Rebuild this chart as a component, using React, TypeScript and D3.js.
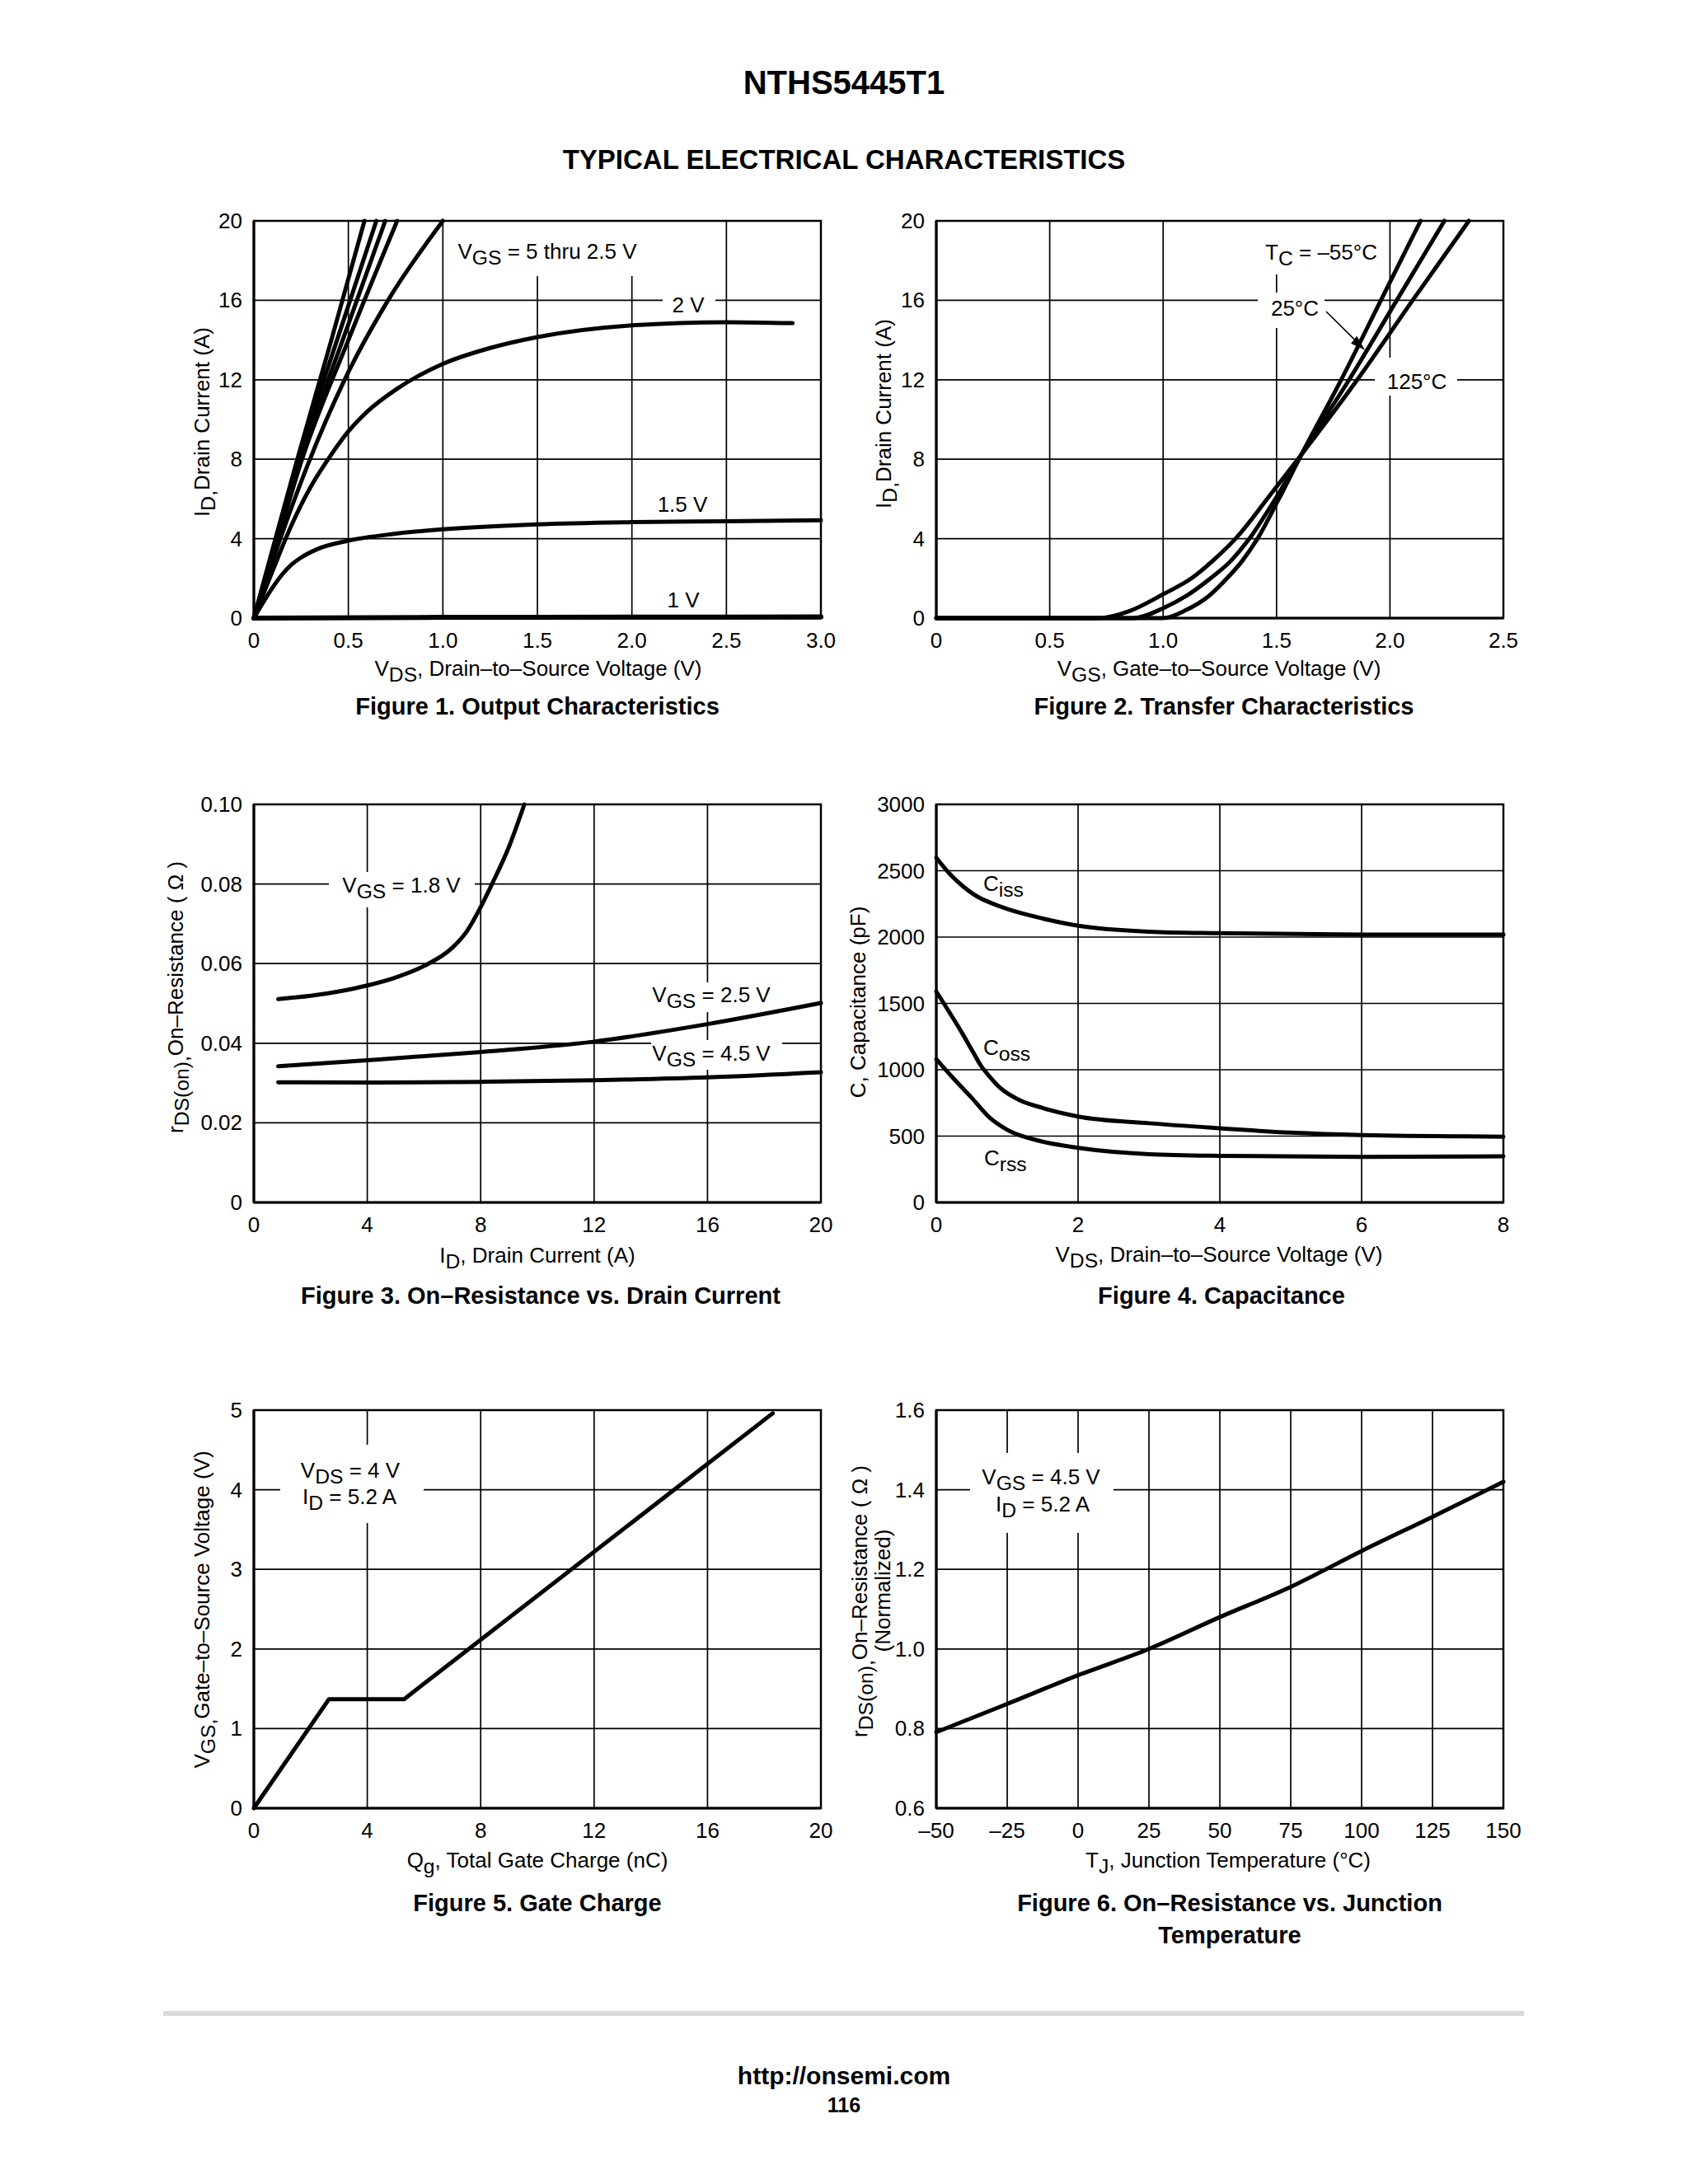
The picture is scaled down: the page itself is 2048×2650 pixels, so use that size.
// @ts-nocheck
import React from 'react';
import * as d3 from 'd3';

const FONT = '"Liberation Sans", Arial, Helvetica, sans-serif';

// ---------- Figure 1. Output Characteristics ----------
const fig1XTicks = [0, 0.5, 1, 1.5, 2, 2.5, 3];
const fig1XLabels = ['0', '0.5', '1.0', '1.5', '2.0', '2.5', '3.0'];
const fig1YTicks = [0, 4, 8, 12, 16, 20];
const fig1Vgs5 = [[0, 0], [0.12, 4.2], [0.23, 8], [0.41, 14], [0.585, 20]];
const fig1Vgs45 = [[0, 0], [0.12, 4.1], [0.235, 8], [0.44, 14], [0.648, 20]];
const fig1Vgs35 = [[0, 0], [0.125, 4.1], [0.245, 8], [0.47, 14], [0.695, 20]];
const fig1Vgs3 = [[0, 0], [0.13, 4.1], [0.255, 8], [0.5, 14], [0.758, 20]];
const fig1Vgs25 = [[0, 0], [0.14, 4], [0.28, 7.6], [0.48, 12], [0.71, 16], [1.0, 20]];
const fig1Vgs2 = [[0, 0], [0.1, 2.4], [0.2, 4.7], [0.3, 6.6], [0.4, 8.1], [0.5, 9.4], [0.6, 10.4], [0.75, 11.5], [1.0, 12.8], [1.25, 13.6], [1.5, 14.15], [2.0, 14.74], [2.5, 14.9], [2.85, 14.85]];
const fig1Vgs15 = [[0, 0], [0.05, 0.8], [0.1, 1.55], [0.15, 2.2], [0.2, 2.7], [0.25, 3.05], [0.33, 3.45], [0.5, 3.9], [0.75, 4.25], [1.0, 4.47], [1.5, 4.72], [2.0, 4.83], [2.5, 4.88], [3.0, 4.93]];
const fig1Vgs1 = [[0, 0], [1, 0.04], [2, 0.05], [3, 0.06]];

// ---------- Figure 2. Transfer Characteristics ----------
const fig2XTicks = [0, 0.5, 1, 1.5, 2, 2.5];
const fig2XLabels = ['0', '0.5', '1.0', '1.5', '2.0', '2.5'];
const fig2YTicks = [0, 4, 8, 12, 16, 20];
const fig2Tc125 = [[0, 0], [0.717, 0], [0.85, 0.35], [1.0, 1.2], [1.127, 2.02], [1.22, 2.9], [1.319, 4.0], [1.47, 6.17], [1.61, 8.24], [1.856, 12], [2.1, 16], [2.348, 20]];
const fig2Tc25 = [[0, 0], [0.87, 0], [1.0, 0.5], [1.1, 1.1], [1.211, 2.02], [1.3, 2.9], [1.38, 4.0], [1.5, 6.1], [1.61, 8.24], [1.82, 12], [2.03, 16], [2.24, 20]];
const fig2TcM55 = [[0, 0], [1.0, 0], [1.1, 0.4], [1.2, 1.1], [1.283, 2.02], [1.35, 2.9], [1.416, 4.0], [1.51, 6.0], [1.61, 8.24], [1.785, 12], [1.96, 16], [2.135, 20]];

// ---------- Figure 3. On-Resistance vs. Drain Current ----------
const fig3XTicks = [0, 4, 8, 12, 16, 20];
const fig3YTicks = [0, 0.02, 0.04, 0.06, 0.08, 0.1];
const fig3YLabels = ['0', '0.02', '0.04', '0.06', '0.08', '0.10'];
const fig3Vgs18 = [[0.86, 0.0511], [2, 0.0519], [3, 0.053], [4, 0.0545], [5, 0.0565], [6, 0.0594], [7, 0.064], [7.5, 0.068], [8, 0.0742], [8.4, 0.08], [9, 0.0894], [9.54, 0.1]];
const fig3Vgs25 = [[0.86, 0.0342], [4, 0.0357], [8, 0.0378], [12, 0.0404], [16, 0.0448], [20, 0.0501]];
const fig3Vgs45 = [[0.86, 0.0302], [4, 0.0301], [8, 0.0303], [12, 0.0307], [16, 0.0314], [20, 0.0327]];

// ---------- Figure 4. Capacitance ----------
const fig4XTicks = [0, 2, 4, 6, 8];
const fig4YTicks = [0, 500, 1000, 1500, 2000, 2500, 3000];
const fig4Ciss = [[0, 2598], [0.2, 2470], [0.37, 2385], [0.63, 2290], [0.75, 2262], [1, 2212], [1.5, 2140], [2, 2085], [3, 2041], [4, 2029], [6, 2019], [8, 2019]];
const fig4Coss = [[0, 1589], [0.2, 1420], [0.37, 1271], [0.5, 1150], [0.63, 1030], [0.75, 950], [0.9, 864], [1.16, 775], [1.5, 712], [2, 648], [3, 597], [4, 559], [5, 526], [6, 508], [8, 496]];
const fig4Crss = [[0, 1080], [0.25, 930], [0.5, 788], [0.75, 640], [1, 547], [1.5, 458], [2, 412], [3, 364], [4, 351], [6, 343], [8, 348]];

// ---------- Figure 5. Gate Charge ----------
const fig5XTicks = [0, 4, 8, 12, 16, 20];
const fig5YTicks = [0, 1, 2, 3, 4, 5];
const fig5Qg = [[0, 0], [2.65, 1.37], [5.3, 1.37], [18.3, 4.96]];

// ---------- Figure 6. On-Resistance vs. Junction Temperature ----------
const fig6XTicks = [-50, -25, 0, 25, 50, 75, 100, 125, 150];
const fig6XLabels = ['–50', '–25', '0', '25', '50', '75', '100', '125', '150'];
const fig6YTicks = [0.6, 0.8, 1.0, 1.2, 1.4, 1.6];
const fig6YLabels = ['0.6', '0.8', '1.0', '1.2', '1.4', '1.6'];
const fig6Rds = [[-50, 0.791], [-25, 0.862], [0, 0.934], [25, 1.0], [50, 1.08], [75, 1.156], [100, 1.246], [125, 1.332], [150, 1.42]];

// plot frames: [left, right, top, bottom]
const LEFT = [308, 996];
const RIGHT = [1136, 1824];
const ROWS = [[268, 750], [976, 1459], [1711, 2194]];

// "V_{GS} = 1.8 V" -> parts with subscripts
const parse = (s) => {
  const out = [];
  const re = /_\{([^}]*)\}/g;
  let last = 0, m;
  while ((m = re.exec(s))) {
    if (m.index > last) out.push({ t: s.slice(last, m.index) });
    out.push({ t: m[1], sub: true });
    last = re.lastIndex;
  }
  if (last < s.length) out.push({ t: s.slice(last) });
  return out;
};

const SUB = 7;
const Rich = ({ s, size = 26, weight = 'normal', ...rest }) => {
  let shifted = false;
  return (
    <text fontFamily={FONT} fontSize={size} fontWeight={weight} style={{ whiteSpace: 'pre' }} {...rest}>
      {parse(s).map((p, i) => {
        let dy = 0;
        if (p.sub && !shifted) { dy = SUB; shifted = true; }
        else if (!p.sub && shifted) { dy = -SUB; shifted = false; }
        return <tspan key={i} dy={dy || undefined} fontSize={p.sub ? size * 0.95 : undefined}>{p.t}</tspan>;
      })}
    </text>
  );
};

const Plot = ({ frame, xDomain, yDomain, xTicks, xLabels, yTicks, yLabels, masks = [], children }) => {
  const [x0, x1, y0, y1] = frame;
  const x = d3.scaleLinear().domain(xDomain).range([x0, x1]);
  const y = d3.scaleLinear().domain(yDomain).range([y1, y0]);
  const xl = xLabels || xTicks.map(String);
  const yl = yLabels || yTicks.map(String);
  return (
    <g>
      {xTicks.slice(1, -1).map(t => (
        <line key={'gx' + t} x1={x(t)} x2={x(t)} y1={y0} y2={y1} stroke="#000" strokeWidth={1.7} />
      ))}
      {yTicks.slice(1, -1).map(t => (
        <line key={'gy' + t} x1={x0} x2={x1} y1={y(t)} y2={y(t)} stroke="#000" strokeWidth={1.7} />
      ))}
      {masks.map((m, i) => <rect key={'m' + i} x={m[0]} y={m[1]} width={m[2] - m[0]} height={m[3] - m[1]} fill="#fff" />)}
      {children(x, y)}
      <rect x={x0} y={y0} width={x1 - x0} height={y1 - y0} fill="none" stroke="#000" strokeWidth={2.5} />
      <line x1={x0} x2={x0} y1={y0} y2={y1} stroke="#000" strokeWidth={3.2} />
      <line x1={x0} x2={x1} y1={y1} y2={y1} stroke="#000" strokeWidth={3.2} />
      {xTicks.map((t, i) => (
        <text key={'tx' + i} x={x(t)} y={y1 + 36} textAnchor="middle" fontFamily={FONT} fontSize={26}>{xl[i]}</text>
      ))}
      {yTicks.map((t, i) => (
        <text key={'ty' + i} x={x0 - 14} y={y(t) + 9} textAnchor="end" fontFamily={FONT} fontSize={26}>{yl[i]}</text>
      ))}
    </g>
  );
};

const curve = (x, y, c = d3.curveMonotoneX) => d3.line().x(d => x(d[0])).y(d => y(d[1])).curve(c);

const Curve = ({ d, x, y, c, w = 5 }) => (
  <path d={curve(x, y, c)(d)} fill="none" stroke="#000" strokeWidth={w} strokeLinejoin="round" strokeLinecap="round" />
);

const YTitle = ({ s, bx, cy, size = 26 }) => (
  <Rich s={s} size={size} textAnchor="middle" transform={`translate(${bx},${cy}) rotate(-90)`} />
);

const Caption = ({ s, cx, by }) => (
  <text x={cx} y={by} textAnchor="middle" fontFamily={FONT} fontSize={29} fontWeight="bold">{s}</text>
);

export default function App() {
  const f1 = [LEFT[0], LEFT[1], ROWS[0][0], ROWS[0][1]];
  const f2 = [RIGHT[0], RIGHT[1], ROWS[0][0], ROWS[0][1]];
  const f3 = [LEFT[0], LEFT[1], ROWS[1][0], ROWS[1][1]];
  const f4 = [RIGHT[0], RIGHT[1], ROWS[1][0], ROWS[1][1]];
  const f5 = [LEFT[0], LEFT[1], ROWS[2][0], ROWS[2][1]];
  const f6 = [RIGHT[0], RIGHT[1], ROWS[2][0], ROWS[2][1]];

  return (
    <div style={{ position: 'absolute', left: 0, top: 0 }}>
      <svg width={2048} height={2650} viewBox="0 0 2048 2650" style={{ display: 'block', background: '#fff' }}>
        <rect width={2048} height={2650} fill="#fff" />
        <text x={1024} y={114} textAnchor="middle" fontFamily={FONT} fontSize={40} fontWeight="bold">NTHS5445T1</text>
        <text x={1024} y={205} textAnchor="middle" fontFamily={FONT} fontSize={33} fontWeight="bold">TYPICAL ELECTRICAL CHARACTERISTICS</text>

        {/* Figure 1 */}
        <Plot frame={f1} xDomain={[0, 3]} yDomain={[0, 20]} xTicks={fig1XTicks} xLabels={fig1XLabels} yTicks={fig1YTicks}
          masks={[[543, 269, 787, 335], [804, 352, 868, 388]]}>
          {(x, y) => (
            <g>
              {[fig1Vgs5, fig1Vgs45, fig1Vgs35, fig1Vgs3, fig1Vgs25, fig1Vgs2, fig1Vgs15].map((d, i) => <Curve key={i} d={d} x={x} y={y} />)}
              <Curve d={fig1Vgs1} x={x} y={y} w={6} />
              <Rich s="V_{GS} = 5 thru 2.5 V" x={664} y={314} textAnchor="middle" />
              <Rich s="2 V" x={835} y={379} textAnchor="middle" />
              <Rich s="1.5 V" x={828} y={621} textAnchor="middle" />
              <Rich s="1 V" x={829} y={737} textAnchor="middle" />
            </g>
          )}
        </Plot>
        <Rich s="V_{DS}, Drain–to–Source Voltage (V)" x={653} y={820} textAnchor="middle" />
        <YTitle s="I_{D,}Drain Current (A)" bx={254} cy={512} />
        <Caption s="Figure 1. Output Characteristics" cx={652} by={867} />

        {/* Figure 2 */}
        <Plot frame={f2} xDomain={[0, 2.5]} yDomain={[0, 20]} xTicks={fig2XTicks} xLabels={fig2XLabels} yTicks={fig2YTicks}
          masks={[[1531, 269, 1678, 333], [1526, 355, 1607, 398], [1668, 434, 1768, 480]]}>
          {(x, y) => (
            <g>
              {[fig2Tc125, fig2Tc25, fig2TcM55].map((d, i) => <Curve key={i} d={d} x={x} y={y} />)}
              <Rich s="T_{C} = –55°C" x={1603} y={315} textAnchor="middle" />
              <Rich s="25°C" x={1571} y={383} textAnchor="middle" />
              <Rich s="125°C" x={1719} y={472} textAnchor="middle" />
              <line x1={1609} y1={378} x2={x(1.89) - 6} y2={y(13.5) - 6} stroke="#000" strokeWidth={1.6} />
              <path d={`M${x(1.89)},${y(13.5)} l-17,-8 l7,-9 z`} fill="#000" />
            </g>
          )}
        </Plot>
        <Rich s="V_{GS}, Gate–to–Source Voltage (V)" x={1479} y={820} textAnchor="middle" />
        <YTitle s="I_{D,}Drain Current (A)" bx={1081} cy={502} />
        <Caption s="Figure 2. Transfer Characteristics" cx={1485} by={867} />

        {/* Figure 3 */}
        <Plot frame={f3} xDomain={[0, 20]} yDomain={[0, 0.1]} xTicks={fig3XTicks} yTicks={fig3YTicks} yLabels={fig3YLabels}
          masks={[[399, 1058, 576, 1101], [790, 1192, 949, 1228], [790, 1262, 949, 1298]]}>
          {(x, y) => (
            <g>
              {[fig3Vgs18, fig3Vgs25, fig3Vgs45].map((d, i) => <Curve key={i} d={d} x={x} y={y} />)}
              <Rich s="V_{GS} = 1.8 V" x={487} y={1083} textAnchor="middle" />
              <Rich s="V_{GS} = 2.5 V" x={863} y={1216} textAnchor="middle" />
              <Rich s="V_{GS} = 4.5 V" x={863} y={1287} textAnchor="middle" />
            </g>
          )}
        </Plot>
        <Rich s="I_{D}, Drain Current (A)" x={652} y={1532} textAnchor="middle" />
        <YTitle s="r_{DS(on),}On–Resistance ( Ω )" bx={222} cy={1210} />
        <Caption s="Figure 3. On–Resistance vs. Drain Current" cx={656} by={1582} />

        {/* Figure 4 */}
        <Plot frame={f4} xDomain={[0, 8]} yDomain={[0, 3000]} xTicks={fig4XTicks} yTicks={fig4YTicks}>
          {(x, y) => (
            <g>
              {[fig4Ciss, fig4Coss, fig4Crss].map((d, i) => <Curve key={i} d={d} x={x} y={y} />)}
              <Rich s="C_{iss}" x={1193} y={1081} />
              <Rich s="C_{oss}" x={1193} y={1280} />
              <Rich s="C_{rss}" x={1194} y={1414} />
            </g>
          )}
        </Plot>
        <Rich s="V_{DS}, Drain–to–Source Voltage (V)" x={1479} y={1531} textAnchor="middle" />
        <YTitle s="C, Capacitance (pF)" bx={1050} cy={1216} />
        <Caption s="Figure 4. Capacitance" cx={1482} by={1582} />

        {/* Figure 5 */}
        <Plot frame={f5} xDomain={[0, 20]} yDomain={[0, 5]} xTicks={fig5XTicks} yTicks={fig5YTicks}
          masks={[[340, 1753, 514, 1848]]}>
          {(x, y) => (
            <g>
              <Curve d={fig5Qg} x={x} y={y} c={d3.curveLinear} />
              <Rich s="V_{DS} = 4 V" x={425} y={1793} textAnchor="middle" />
              <Rich s="I_{D} = 5.2 A" x={424} y={1825} textAnchor="middle" />
            </g>
          )}
        </Plot>
        <Rich s="Q_{g}, Total Gate Charge (nC)" x={652} y={2266} textAnchor="middle" />
        <YTitle s="V_{GS,}Gate–to–Source Voltage (V)" bx={254} cy={1953} />
        <Caption s="Figure 5. Gate Charge" cx={652} by={2319} />

        {/* Figure 6 */}
        <Plot frame={f6} xDomain={[-50, 150]} yDomain={[0.6, 1.6]} xTicks={fig6XTicks} xLabels={fig6XLabels} yTicks={fig6YTicks} yLabels={fig6YLabels}
          masks={[[1177, 1763, 1351, 1860]]}>
          {(x, y) => (
            <g>
              <Curve d={fig6Rds} x={x} y={y} />
              <Rich s="V_{GS} = 4.5 V" x={1263} y={1801} textAnchor="middle" />
              <Rich s="I_{D} = 5.2 A" x={1265} y={1834} textAnchor="middle" />
            </g>
          )}
        </Plot>
        <Rich s="T_{J}, Junction Temperature (°C)" x={1490} y={2266} textAnchor="middle" />
        <YTitle s="r_{DS(on),}On–Resistance ( Ω )" bx={1052} cy={1943} />
        <YTitle s="(Normalized)" bx={1080} cy={1930} />
        <Caption s="Figure 6. On–Resistance vs. Junction" cx={1492} by={2319} />
        <Caption s="Temperature" cx={1492} by={2358} />

        {/* footer */}
        <line x1={198} x2={1849} y1={2443} y2={2443} stroke="#d9d9d9" strokeWidth={6} />
        <text x={1024} y={2529} textAnchor="middle" fontFamily={FONT} fontSize={30} fontWeight="bold">http://onsemi.com</text>
        <text x={1024} y={2563} textAnchor="middle" fontFamily={FONT} fontSize={25} fontWeight="bold">116</text>
      </svg>
    </div>
  );
}
